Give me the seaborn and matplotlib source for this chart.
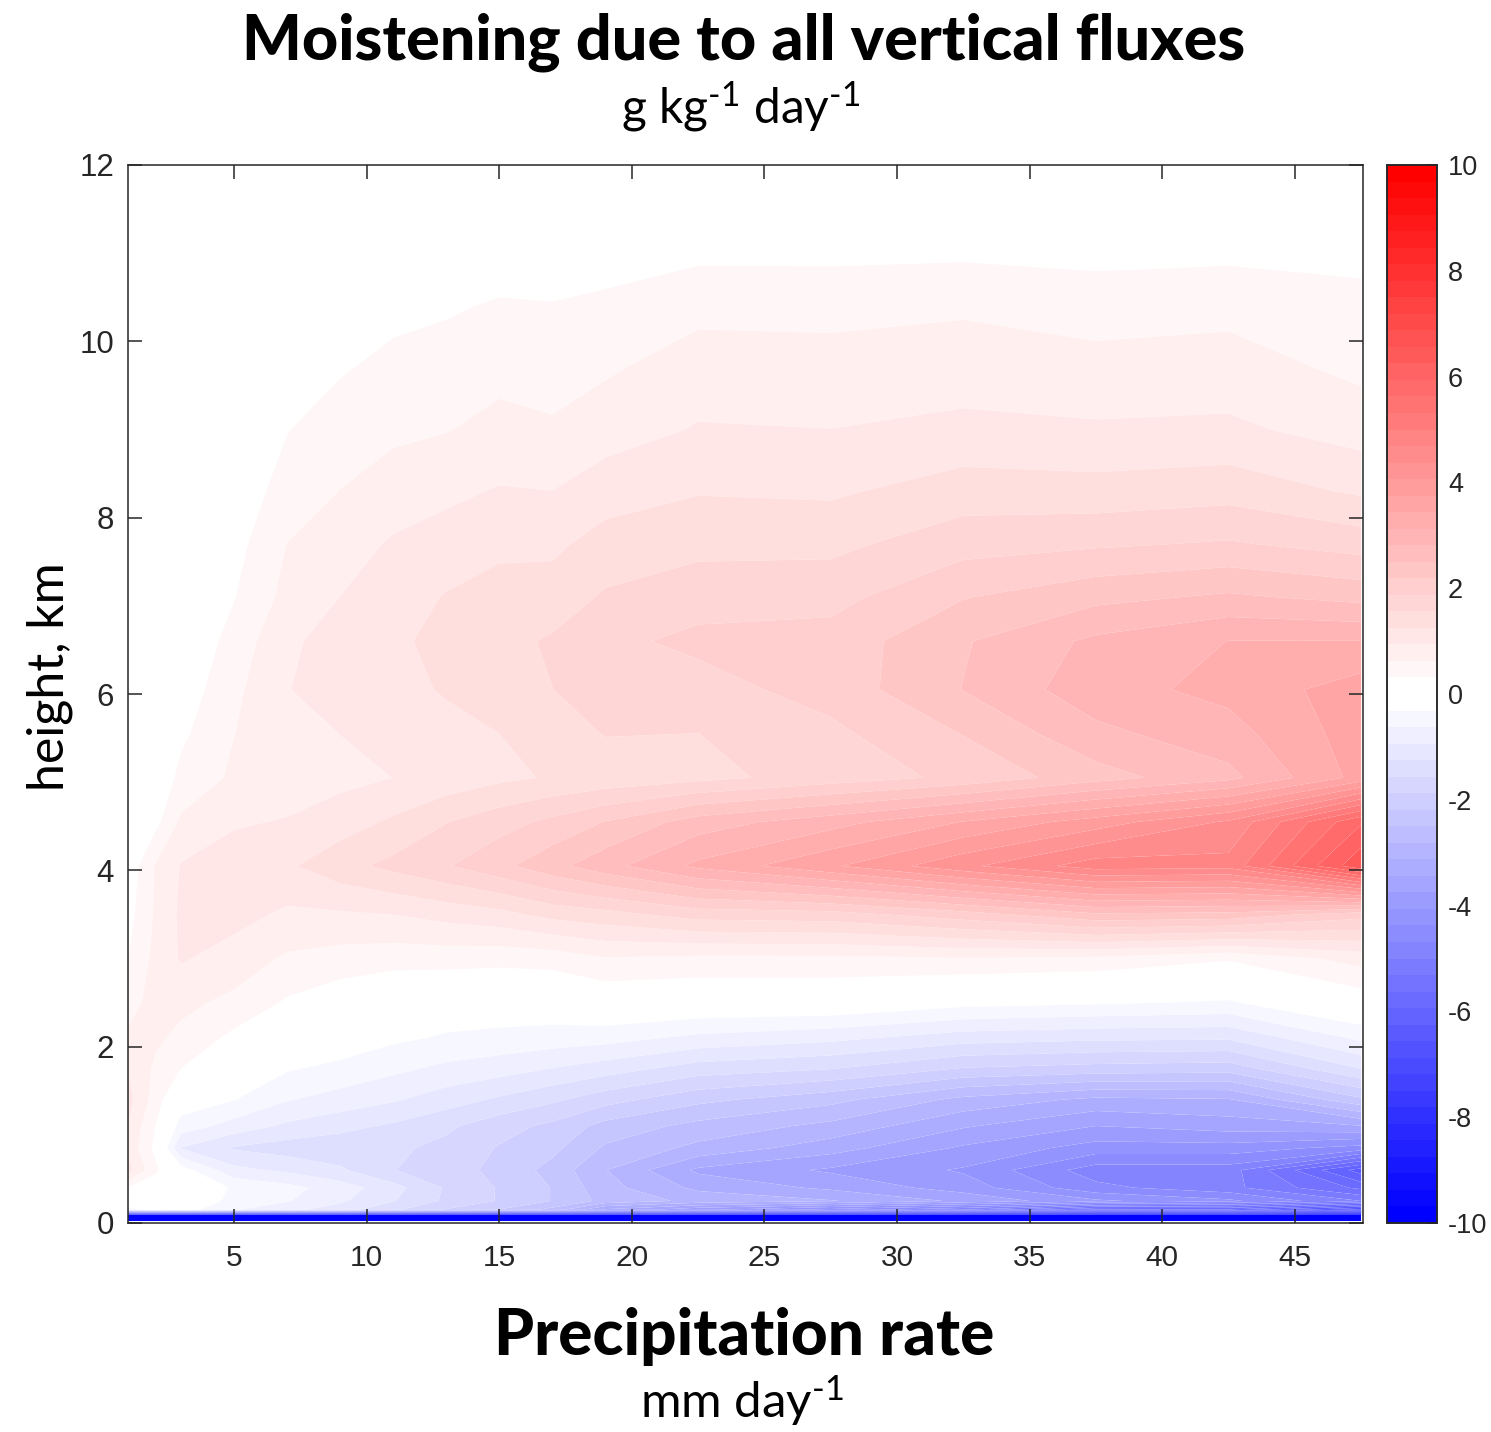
import numpy as np
import matplotlib
matplotlib.use("Agg")
import matplotlib.pyplot as plt
import seaborn as sns
from matplotlib.colors import ListedColormap

# precipitation bins, mm/day
precip = [1, 2, 3, 5, 7, 9, 11, 13, 15, 17, 19, 22.5, 27.5, 32.5, 37.5, 42.5, 47.5]
# model levels, km
height = [0.025, 0.09, 0.15, 0.25, 0.4, 0.6, 0.85, 1.1, 1.4, 1.75, 2.1, 2.5, 3.0, 3.5,
          4.05, 4.55, 5.05, 5.55, 6.05, 6.6, 7.1, 7.7, 8.3, 9.0, 9.7, 10.4, 11.2, 12.0]

# moistening, g/kg/day, one row per height
moistening = [
    [-10] * 17,
    [-10] * 17,
    [-.4, -.2, -.15, -.6, -.85, -1.1, -1.5, -1.9, -2.2, -2.6, -3.5, -4, -4.5, -5, -6, -6, -7],
    [0, 0, -.05, -.4, -.6, -.88, -1.23, -1.62, -1.9, -2.2, -2.6, -2.9, -3.1, -3.5, -4, -4.3, -5],
    [.3, .05, 0, -.35, -.52, -.78, -1.13, -1.6, -1.9, -2.2, -2.7, -3.2, -3.5, -3.9, -4.6, -4.9, -5.7],
    [1.05, .4, -.15, -.85, -1, -1.2, -1.55, -1.75, -1.95, -2.3, -2.8, -3.5, -3.8, -4.1, -4.85, -4.85, -6.4],
    [.85, .25, -.95, -1.28, -1.4, -1.45, -1.5, -1.65, -1.9, -2.1, -2.55, -2.9, -3.3, -3.8, -4.2, -4.2, -4.5],
    [.92, .33, -.45, -.75, -1, -1.15, -1.3, -1.5, -1.75, -1.95, -2.3, -2.6, -2.9, -3.4, -3.75, -3.6, -3.45],
    [1.05, .5, -.1, -.3, -.6, -.75, -.9, -1.1, -1.3, -1.5, -1.75, -2.1, -2.4, -2.9, -3.2, -3.15, -2.25],
    [.93, .58, .31, .05, -.28, -.4, -.55, -.7, -.8, -.95, -1.1, -1.4, -1.55, -1.9, -2, -2.05, -1.25],
    [.68, .68, .55, .23, 0, -.1, -.25, -.35, -.4, -.45, -.5, -.7, -.85, -1.1, -1.18, -1.2, -.55],
    [.5, .74, .7, .55, .27, .1, -.05, -.1, -.1, -.08, .05, 0, 0, -.2, -.27, -.35, .1],
    [.31, .7, .97, .8, .58, .5, .45, .45, .42, .45, .6, .55, .55, .6, .55, .35, .75],
    [.2, .65, 1, 1.05, .88, .9, .94, 1.05, 1.15, 1.35, 1.45, 1.7, 1.75, 2.05, 2.45, 2.4, 2.0],
    [.1, .63, .96, 1.1, 1.2, 1.45, 1.65, 1.85, 2.1, 2.4, 2.7, 3.2, 3.7, 4.3, 4.85, 4.8, 6.5],
    [.02, .2, .68, .9, .96, 1.1, 1.3, 1.55, 1.75, 1.95, 2.2, 2.65, 3, 3.45, 3.9, 4.42, 5.9],
    [0, .05, .4, .68, .75, .85, .94, 1.05, 1.18, 1.28, 1.35, 1.47, 1.7, 1.95, 2.37, 2.72, 3.55],
    [0, .02, .25, .62, .82, .94, 1.0, 1.15, 1.25, 1.38, 1.58, 1.56, 1.8, 2.2, 2.73, 3, 3.6],
    [0, 0, .12, .55, .93, 1.03, 1.15, 1.28, 1.35, 1.56, 1.65, 1.75, 2.0, 2.51, 3, 3.22, 3.6],
    [0, 0, .05, .42, .9, 1.02, 1.2, 1.33, 1.47, 1.6, 1.8, 1.95, 2, 2.47, 2.88, 3.13, 3.13],
    [0, 0, .02, .3, .72, .94, 1.1, 1.27, 1.37, 1.4, 1.6, 1.75, 1.77, 2.17, 2.41, 2.55, 2.4],
    [0, 0, 0, .2, .63, .78, .98, 1.07, 1.18, 1.18, 1.38, 1.47, 1.48, 1.75, 1.83, 1.91, 1.74],
    [0, 0, 0, .1, .45, .63, .75, .87, .96, .94, 1.1, 1.23, 1.2, 1.4, 1.37, 1.44, 1.2],
    [0, 0, 0, .03, .3, .47, .57, .61, .72, .67, .8, .96, .94, 1.02, .98, 1, .8],
    [0, 0, 0, 0, .12, .28, .4, .46, .53, .48, .58, .78, .76, .78, .72, .76, .55],
    [0, 0, 0, 0, 0, .05, .22, .27, .35, .33, .38, .53, .52, .58, .5, .53, .43],
    [0, 0, 0, 0, 0, 0, 0, 0, .05, .05, .1, .15, .15, .15, .12, .15, .13],
    [0] * 17,
]

x_ticks = [5, 10, 15, 20, 25, 30, 35, 40, 45]
y_ticks = [0, 2, 4, 6, 8, 10, 12]
cbar_ticks = [-10, -8, -6, -4, -2, 0, 2, 4, 6, 8, 10]

W, H = 1491, 1432
DARK = "#262626"


def px_axes(left, top, right, bottom):
    return [left / W, 1 - bottom / H, (right - left) / W, (bottom - top) / H]


sns.set_theme(style="ticks")
plt.rcParams["font.family"] = ["Lato", "DejaVu Sans"]
plt.rcParams["mathtext.fontset"] = "custom"
plt.rcParams["mathtext.rm"] = "Lato"
plt.rcParams["mathtext.default"] = "regular"
plt.rcParams["axes.unicode_minus"] = False

palette = sns.blend_palette(["#0000ff", "#ffffff"], 32) + sns.blend_palette(["#ffffff", "#ff0000"], 32)
cmap = ListedColormap(palette)
levels = np.linspace(-10, 10, 65)

fig = plt.figure(figsize=(W / 100, H / 100), dpi=100)
ax = fig.add_axes(px_axes(128, 165, 1363, 1223))
cax = fig.add_axes(px_axes(1387, 165, 1437, 1223))

cs = ax.contourf(precip, height, np.array(moistening), levels=levels, cmap=cmap,
                 extend="both", antialiased=True)
ax.set_xlim(1, 47.57)
ax.set_ylim(0, 12)
ax.set_xticks(x_ticks)
ax.set_yticks(y_ticks)
ax.xaxis.set_ticks_position("both")
ax.yaxis.set_ticks_position("both")
ax.tick_params(axis="x", direction="in", length=10, width=1.1, color=DARK,
               labelsize=21.5, labelcolor=DARK, pad=15, labeltop=False, labelbottom=True)
ax.tick_params(axis="y", direction="in", length=10, width=1.1, color=DARK,
               labelsize=22.5, labelcolor=DARK, pad=10, labelright=False, labelleft=True)
for label in ax.get_xticklabels() + ax.get_yticklabels():
    label.set_family("Liberation Sans")
ax.set_axisbelow(False)

cbar = fig.colorbar(cs, cax=cax, ticks=cbar_ticks, drawedges=False, extendfrac=0)
cbar.minorticks_off()
cax.tick_params(direction="in", length=8, width=1.1, color=DARK, labelsize=19.5,
                labelcolor=DARK, pad=8)
for label in cax.get_yticklabels():
    label.set_family("Liberation Sans")

for a in (ax, cax):
    for spine in a.spines.values():
        spine.set_visible(True)
        spine.set_color(DARK)
        spine.set_linewidth(1.1)


def put_text(px, py, s, **kw):
    fig.text(px / W, 1 - py / H, s, ha="center", va="center", color="black", **kw)


put_text(744, 42, "Moistening due to all vertical fluxes", fontsize=45.4, fontweight="black")
put_text(741, 107, r"g kg$^{\text{-}1}$ day$^{\text{-}1}$", fontsize=34.5)
put_text(744, 1337, "Precipitation rate", fontsize=46, fontweight="black")
put_text(742, 1401, r"mm day$^{\text{-}1}$", fontsize=35.5)
put_text(50, 677, "height, km", fontsize=36, rotation=90)

fig.savefig("out.png", dpi=100)
